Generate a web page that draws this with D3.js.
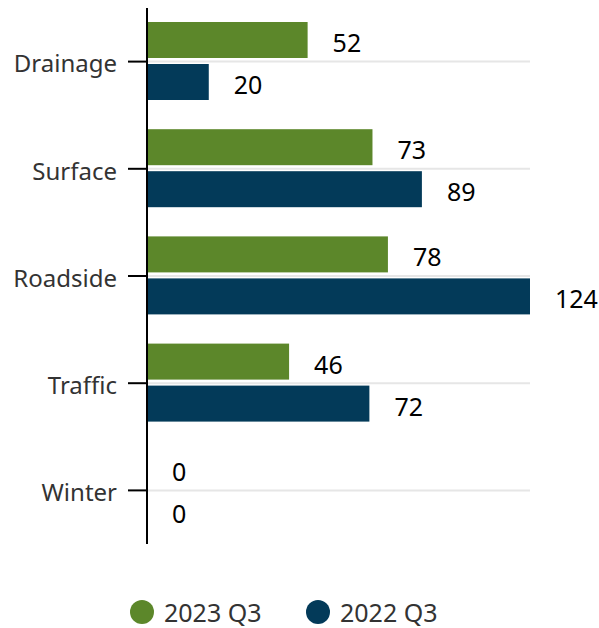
<!DOCTYPE html>
<html>
<head>
<meta charset="utf-8">
<script src="https://cdn.jsdelivr.net/npm/d3@7"></script>
<style>
  body { margin: 0; background: #fff; }
  text { font-family: "Noto Sans", sans-serif; }
</style>
</head>
<body>
<svg id="chart" width="599" height="628"></svg>
<script>
const categories = ["Drainage", "Surface", "Roadside", "Traffic", "Winter"];
const seriesNames = ["2023 Q3", "2022 Q3"];
const values2023 = [52, 73, 78, 46, 0];
const values2022 = [20, 89, 124, 72, 0];
const colors = ["#5c872a", "#033a59"];

const svg = d3.select("#chart");

const rows = categories.map((c, i) => ({
  name: c,
  vals: [values2023[i], values2022[i]]
}));

const x = d3.scaleLinear()
            .domain([0, 124])
            .range([147, 530]);

const y0 = d3.scaleBand()
             .domain(categories)
             .range([8, 544]);

const y1 = d3.scaleBand()
             .domain([0, 1])
             .range([14, 92])
             .paddingInner(1 / 7);

// gridlines at group centres
svg.append("g")
   .selectAll("line")
   .data(categories)
   .enter()
   .append("line")
   .attr("x1", x(0))
   .attr("x2", x(124))
   .attr("y1", d => y0(d) + y0.bandwidth() / 2)
   .attr("y2", d => y0(d) + y0.bandwidth() / 2)
   .attr("stroke", "#e6e6e6")
   .attr("stroke-width", 2);

const groups = svg.selectAll(".grp")
                  .data(rows)
                  .enter()
                  .append("g")
                  .attr("class", "grp")
                  .attr("transform", d => "translate(0," + y0(d.name) + ")");

groups.selectAll("rect")
      .data(d => d.vals)
      .enter()
      .append("rect")
      .attr("x", x(0))
      .attr("y", (v, i) => y1(i))
      .attr("width", v => x(v) - x(0))
      .attr("height", y1.bandwidth())
      .attr("fill", (v, i) => colors[i]);

groups.selectAll("text")
      .data(d => d.vals)
      .enter()
      .append("text")
      .attr("x", v => x(v) + 25)
      .attr("y", (v, i) => y1(i) + y1.bandwidth() / 2 + 2)
      .attr("dominant-baseline", "central")
      .attr("font-size", 25)
      .attr("fill", "#000")
      .text(v => v);

// category axis
const yAxis = svg.append("g")
                 .attr("transform", "translate(" + x(0) + ",0)")
                 .call(d3.axisLeft(y0).tickSize(19).tickPadding(11));

yAxis.select(".domain")
     .attr("d", "M0," + 8 + "V" + 544)
     .attr("stroke", "#000")
     .attr("stroke-width", 2);

yAxis.selectAll(".tick line")
     .attr("stroke", "#000")
     .attr("stroke-width", 2);

yAxis.selectAll(".tick text")
     .attr("font-size", 24)
     .attr("dy", "0.45em")
     .attr("fill", "#333")
     .attr("font-family", "Noto Sans, sans-serif");

// legend
const legend = svg.append("g")
                  .attr("transform", "translate(0,612)");

const legendX = [142, 318];

const items = legend.selectAll("g")
                    .data(seriesNames)
                    .enter()
                    .append("g")
                    .attr("transform", (d, i) => "translate(" + legendX[i] + ",0)");

items.append("circle")
     .attr("r", 12)
     .attr("cx", 0)
     .attr("cy", 0)
     .attr("fill", (d, i) => colors[i]);

items.append("text")
     .attr("x", 22)
     .attr("y", 0)
     .attr("dominant-baseline", "central")
     .attr("font-size", 25)
     .attr("fill", "#333")
     .text(d => d);
</script>
</body>
</html>
